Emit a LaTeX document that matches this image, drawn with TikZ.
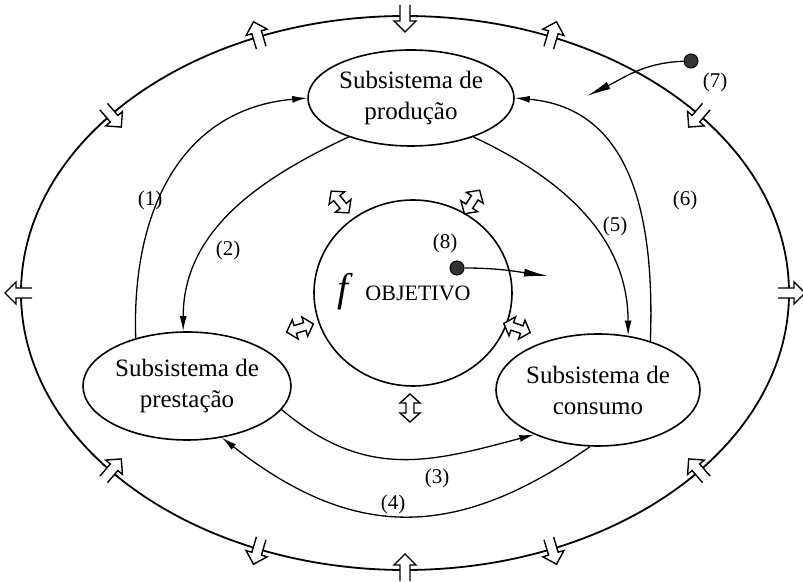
\documentclass[tikz,border=0pt]{standalone}
\usepackage{fontspec}
\setmainfont{Liberation Serif}
\usetikzlibrary{shapes.geometric,arrows.meta}
\begin{document}
\begin{tikzpicture}[x=1pt,y=1pt,
  box/.style={draw, ellipse, line width=1.6pt, inner sep=0pt},
  boxtext/.style={inner sep=0pt, align=center, font=\fontsize{25}{31}\selectfont},
  conn/.style={line width=1.3pt, -{Latex[length=15pt,width=7pt]}},
  longconn/.style={line width=1.3pt, -{Latex[length=24pt,width=8pt]}},
  lbl/.style={font=\fontsize{21}{24}\selectfont, inner sep=0pt},
  dotnode/.style={circle, draw, fill=black!80, line width=1pt, minimum size=14pt, inner sep=0pt},
  hollow/.style={fill=white, draw=black, line width=1.4pt, line join=miter},
]
\useasboundingbox (0,0) rectangle (803,581);
\clip (0,0) rectangle (803,581);

% outer ellipse
\draw[line width=1.8pt] (405,288) ellipse [x radius=384, y radius=277];

% small hollow arrows crossing the outer ellipse
\foreach \t/\d in {90/1, 112.5/0, 140/1, 180/0, 220/1, 247.5/0, 270/1, 292.5/0, 320/1, 0/0, 40/1, 67.5/0} {
  \pgfmathsetmacro\px{405+384*cos(\t)}
  \pgfmathsetmacro\py{288+277*sin(\t)}
  \pgfmathsetmacro\ang{atan2(384*sin(\t),277*cos(\t))+180*\d}
  \begin{scope}[shift={(\px,\py)}, rotate=\ang]
    \fill[white] (-11,-5) -- (5,-5) -- (5,-11) -- (16,0) -- (5,11) -- (5,5) -- (-11,5) -- cycle;
    \draw[line width=1.4pt, line join=miter] (-11,-5) -- (5,-5) -- (5,-11) -- (16,0) -- (5,11) -- (5,5) -- (-11,5);
  \end{scope}
}

% subsystems
\node[box, minimum width=206pt, minimum height=96pt] (prod) at (411,483) {};
\node[boxtext] (prodt) at (prod.center) {Subsistema de\\produção};
\node[box, minimum width=208pt, minimum height=108pt] (prest) at (187,195) {};
\node[boxtext] (prestt) at (prest.center) {Subsistema de\\prestação};
\node[box, minimum width=204pt, minimum height=112pt] (cons) at (598,191) {};
\node[boxtext] (const) at (cons.center) {Subsistema de\\consumo};

% objective
\node[draw, ellipse, line width=1.6pt, minimum width=198pt, minimum height=186pt, inner sep=0pt] (obj) at (413,288) {};
\node[inner sep=0pt, font=\fontsize{40}{40}\selectfont\itshape] (f) at (343,289) {f};
\node[inner sep=0pt, font=\fontsize{22}{24}\selectfont] (objt) at (418,288) {OBJETIVO};

% double hollow arrows around the objective
\foreach \x/\y/\a in {340/379/129, 472/379/57, 300/253/197, 517/253/-19, 410/173/90} {
  \begin{scope}[shift={(\x,\y)}, rotate=\a]
    \draw[hollow] (-14,0) -- (-5,10) -- (-5,4) -- (5,4) -- (5,10) -- (14,0) -- (5,-10) -- (5,-4) -- (-5,-4) -- (-5,-10) -- cycle;
  \end{scope}
}

% connectors
\draw[conn] (prest.137) to[out=92, in=185, looseness=1.1] (prod.180);
\draw[conn] (cons.43) to[out=88, in=-5, looseness=1.1] (prod.0);
\draw[conn] (prod.212) to[out=205, in=90] (prest.94);
\draw[conn] (prod.-32) to[out=-25, in=90] (cons.61);
\draw[conn] (prest.-14) to[out=-40, in=195, looseness=1.1] (cons.215);
\draw[conn] (cons.-98) to[out=-145, in=-38, looseness=1.15] (prest.-56);

% (7) and (8)
\node[dotnode] (d7) at (691,520) {};
\coordinate (t7) at (587,485);
\draw[longconn] (d7) to[out=182, in=26] (t7);
\node[dotnode] (d8) at (457,313) {};
\coordinate (t8) at (548,305);
\draw[longconn] (d8) to[out=0, in=172] (t8);

% labels
\node[lbl] (l1) at (150,381) {(1)};
\node[lbl] (l2) at (228,331) {(2)};
\node[lbl] (l3) at (437,103) {(3)};
\node[lbl] (l4) at (393,77) {(4)};
\node[lbl] (l5) at (615,355) {(5)};
\node[lbl] (l6) at (685,381) {(6)};
\node[lbl] (l7) at (715,499) {(7)};
\node[lbl] (l8) at (445,338) {(8)};
\end{tikzpicture}
\end{document}
